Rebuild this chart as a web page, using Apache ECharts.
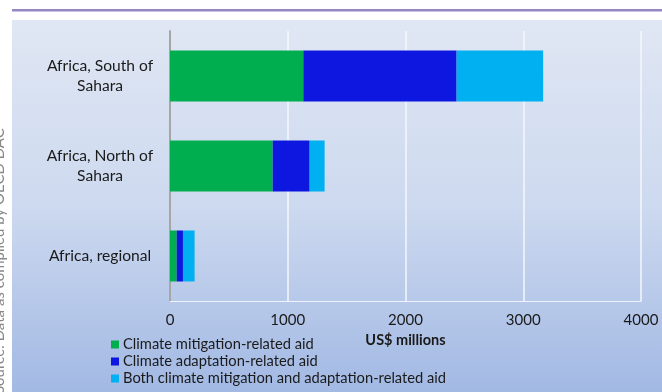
<!DOCTYPE html>
<html>
<head>
<meta charset="utf-8">
<script src="https://cdn.jsdelivr.net/npm/echarts@6/dist/echarts.min.js"></script>
<style>
  html, body { margin: 0; padding: 0; background: #fff; }
  #chart { width: 662px; height: 392px; }
</style>
</head>
<body>
<div id="chart"></div>
<script>
// regions, bottom to top as drawn on the y axis
const regions = ['Africa, regional', 'Africa, North of\nSahara', 'Africa, South of\nSahara'];
// US$ millions
const mitigation = [57, 872, 1132];
const adaptation = [53, 314, 1302];
const both = [99, 127, 735];

const seriesNames = [
    'Climate mitigation-related aid',
    'Climate adaptation-related aid',
    'Both climate mitigation and adaptation-related aid'
];
const colors = ['#00ad4f', '#0d17e0', '#00b0f0'];

const chart = echarts.init(document.getElementById('chart'));

// 堆叠条形图
const makeSeries = (name, data, color) => ({
    name: name,
    type: 'bar',
    stack: 'total',
    data: data,
    barWidth: 51,
    itemStyle: { color: color },
    emphasis: { disabled: true }
});

const option = {
    animation: false,
    backgroundColor: '#ffffff',
    color: colors,
    graphic: [
        // 背景渐变面板
        {
            type: 'rect',
            z: -10,
            shape: { x: 12, y: 20, width: 650, height: 372 },
            style: {
                fill: new echarts.graphic.LinearGradient(0, 0, 0, 1, [
                    { offset: 0, color: '#e0e7f4' },
                    { offset: 0.5, color: '#cdd9ef' },
                    { offset: 1, color: '#a2b9e4' }
                ])
            }
        },
        // 顶部紫色线
        {
            type: 'rect',
            z: -10,
            shape: { x: 12, y: 9, width: 650, height: 2.5 },
            style: { fill: '#9487c4' }
        },
        // 左侧被裁切的来源文字
        {
            type: 'text',
            x: 7,
            y: 394,
            rotation: Math.PI / 2,
            style: {
                text: 'Source: Data as compiled by OECD DAC',
                font: '15px Lato, sans-serif',
                fill: '#888',
                verticalAlign: 'bottom'
            }
        }
    ],
    grid: {
        left: 170,
        right: 21,
        top: 31,
        bottom: 91,
        containLabel: false
    },
    legend: {
        orient: 'vertical',
        left: 111,
        top: 337,
        padding: 0,
        itemWidth: 8,
        itemHeight: 8,
        itemGap: 2,
        icon: 'rect',
        textStyle: {
            fontFamily: 'Lato, sans-serif',
            fontSize: 14.7,
            lineHeight: 15,
            color: '#1a1a1a',
            padding: [0, 0, 0, -1]
        },
        data: seriesNames
    },
    xAxis: {
        type: 'value',
        min: 0,
        max: 4000,
        interval: 1000,
        name: 'US$ millions',
        nameLocation: 'middle',
        nameGap: 31,
        nameTextStyle: {
            fontFamily: 'Lato, sans-serif',
            fontWeight: 'bold',
            fontSize: 14.5,
            color: '#1a1a1a'
        },
        axisLine: { show: true, lineStyle: { color: '#eef2fa', width: 1 } },
        axisTick: { show: false },
        splitLine: { show: true, lineStyle: { color: '#f4f7fc', width: 1.5 } },
        axisLabel: {
            margin: 12,
            fontFamily: 'Lato, sans-serif',
            fontSize: 15,
            color: '#1a1a1a',
            formatter: (v) => String(v)
        }
    },
    yAxis: {
        type: 'category',
        data: regions,
        axisLine: { show: true, lineStyle: { color: '#a6a6a6', width: 2 } },
        axisTick: { show: false },
        axisLabel: {
            margin: 70,
            align: 'center',
            fontFamily: 'Lato, sans-serif',
            fontSize: 15.6,
            lineHeight: 20,
            color: '#1a1a1a'
        }
    },
    series: [
        makeSeries(seriesNames[0], mitigation, colors[0]),
        makeSeries(seriesNames[1], adaptation, colors[1]),
        makeSeries(seriesNames[2], both, colors[2])
    ]
};

chart.setOption(option);
</script>
</body>
</html>
